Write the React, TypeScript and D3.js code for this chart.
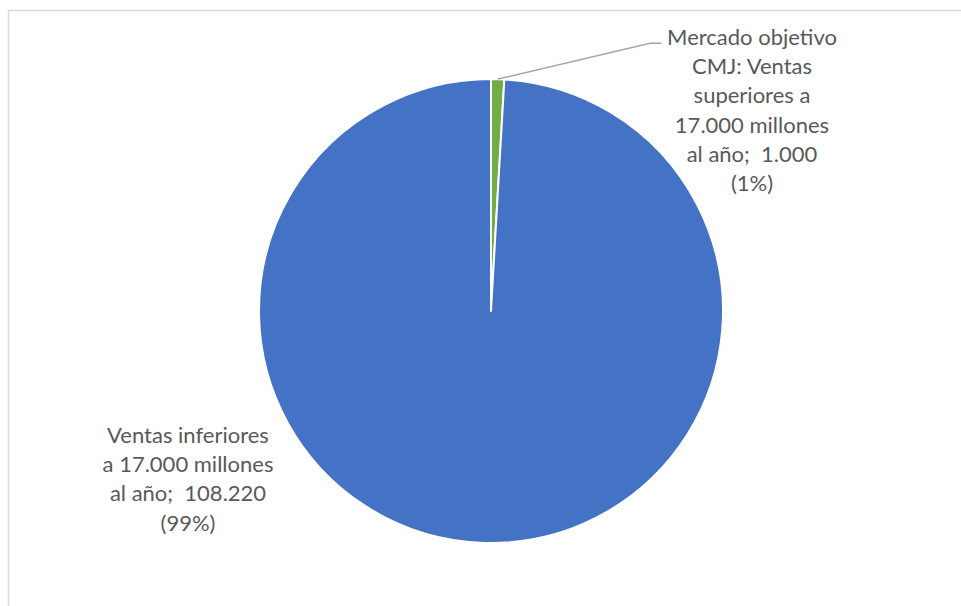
import React from "react";
import * as d3 from "d3";

const categories = [
  "Mercado objetivo CMJ: Ventas superiores a 17.000 millones al año",
  "Ventas inferiores a 17.000 millones al año",
];
const values = [1000, 108220];
const colors = ["#70ad47", "#4472c4"];
const labelLines = [
  ["Mercado objetivo", "CMJ: Ventas", "superiores a", "17.000 millones", "al año;  1.000", "(1%)"],
  ["Ventas inferiores", "a 17.000 millones", "al año;  108.220", "(99%)"],
];

export default function App() {
  const W = 961, H = 606;
  const cx = 491, cy = 311, r = 232;
  const pie = d3.pie<number>().sort(null).value((d) => d)(values);
  const arc = d3.arc<d3.PieArcDatum<number>>().innerRadius(0).outerRadius(r);
  const font = "Lato, 'Open Sans', sans-serif";
  const fs = 22;
  const lh = 29.3;
  const lbl = [
    { x: 752, y0: 37 },
    { x: 188, y0: 435 },
  ];
  const mid = (pie[0].startAngle + pie[0].endAngle) / 2;
  const lx0 = cx + Math.sin(mid) * (r - 1);
  const ly0 = cy - Math.cos(mid) * (r - 1) - 1;
  return (
    <svg width={W} height={H} style={{ position: "absolute", left: 0, top: 0 }}>
      <rect x={8.5} y={10.5} width={1100} height={800} fill="#fff" stroke="#d9d9d9" strokeWidth={1.5} />
      <g transform={`translate(${cx},${cy})`}>
        {pie.map((d, i) => (
          <path key={categories[i]} d={arc(d) || ""} fill={colors[i]} stroke="#fff" strokeWidth={2} strokeLinejoin="round" />
        ))}
      </g>
      <polyline
        points={`${lx0},${ly0} 650,43.3 661.5,43.3`}
        fill="none"
        stroke="#a6a6a6"
        strokeWidth={1.5}
      />
      {labelLines.map((lines, i) => (
        <text key={i} fontFamily={font} fontSize={fs} fill="#595959" textAnchor="middle">
          {lines.map((t, j) => (
            <tspan key={j} x={lbl[i].x} y={lbl[i].y0 + j * lh} dy="0.35em" xmlSpace="preserve">
              {t}
            </tspan>
          ))}
        </text>
      ))}
    </svg>
  );
}
